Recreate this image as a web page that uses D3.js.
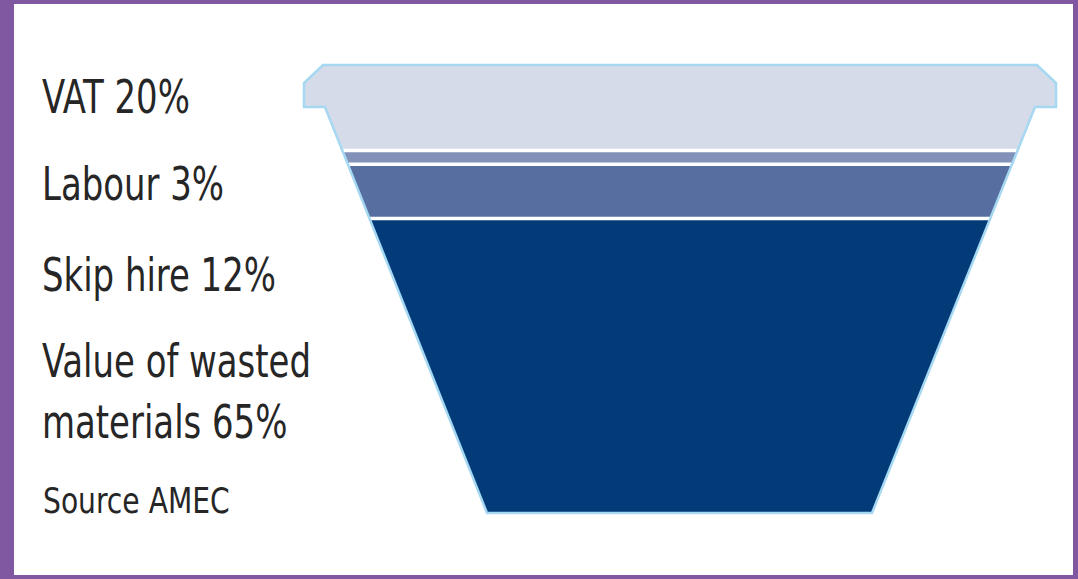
<!DOCTYPE html>
<html>
<head>
<meta charset="utf-8">
<script src="https://cdn.jsdelivr.net/npm/d3@7"></script>
<style>
  html, body { margin: 0; padding: 0; background: #fff; }
  svg { display: block; }
</style>
</head>
<body>
<div id="vis"></div>
<script>
// data
const categories = ["VAT", "Labour", "Skip hire", "Value of wasted materials"];
const shares = [20, 3, 12, 65];
const labelLines = [["VAT 20%"], ["Labour 3%"], ["Skip hire 12%"], ["Value of wasted", "materials 65%"]];
const sourceNote = "Source AMEC";

//#region layout
const W = 1078, H = 579;
const fills = ["#d5dbe8", "#8191b8", "#566fa0", "#033b78"];
const bandTop = 60, bandBottom = 513;

// skip outline
const rimTop = 65, rimChamfer = 20, rimBottom = 107;
const rimLeft = 304, rimRight = 1056;
const bodyTopL = 325, bodyTopR = 1035;
const bodyBotL = 487, bodyBotR = 872;
//#endregion

const stacked = d3.stack().keys(categories)([Object.fromEntries(categories.map((c, i) => [c, shares[i]]))]);

const y = d3.scaleLinear()
  .domain([0, d3.sum(shares)])
  .range([bandTop, bandBottom]);

const svg = d3.select("#vis")
  .append("svg")
    .attr("width", W)
    .attr("height", H);

// purple frame
svg.append("rect")
  .attr("width", W).attr("height", H)
  .attr("fill", "#8057a1");
svg.append("rect")
  .attr("x", 14).attr("y", 4)
  .attr("width", W - 14 - 5).attr("height", H - 8)
  .attr("fill", "#fff");

const outline = d3.path();
outline.moveTo(rimLeft + rimChamfer - 1, rimTop);
outline.lineTo(rimRight - rimChamfer + 1, rimTop);
outline.lineTo(rimRight, rimTop + rimChamfer - 2);
outline.lineTo(rimRight, rimBottom);
outline.lineTo(bodyTopR, rimBottom);
outline.lineTo(bodyBotR, bandBottom);
outline.lineTo(bodyBotL, bandBottom);
outline.lineTo(bodyTopL, rimBottom);
outline.lineTo(rimLeft, rimBottom);
outline.lineTo(rimLeft, rimTop + rimChamfer - 2);
outline.closePath();

svg.append("clipPath")
  .attr("id", "skip")
  .append("path")
    .attr("d", outline.toString());

const bands = svg.append("g").attr("clip-path", "url(#skip)");

bands.selectAll("rect")
  .data(stacked)
  .join("rect")
    .attr("x", rimLeft - 5)
    .attr("width", rimRight - rimLeft + 10)
    .attr("y", d => y(d[0][0]))
    .attr("height", d => y(d[0][1]) - y(d[0][0]))
    .attr("fill", (d, i) => fills[i]);

// white separators between the bands
bands.selectAll("line")
  .data(stacked.slice(0, -1))
  .join("line")
    .attr("x1", rimLeft - 5)
    .attr("x2", rimRight + 5)
    .attr("y1", d => y(d[0][1]))
    .attr("y2", d => y(d[0][1]))
    .attr("stroke", "#fff")
    .attr("stroke-width", 3.5);

svg.append("path")
  .attr("d", outline.toString())
  .attr("fill", "none")
  .attr("stroke", "#a6d8f2")
  .attr("stroke-width", 2.5)
  .attr("stroke-linejoin", "miter");

// labels (condensed look: DejaVu Condensed squeezed a bit more)
const labelBaselines = [113, 200, 291, 377];
const lineGap = 61;
const squeeze = 0.82;

const labels = svg.append("g")
  .attr("font-family", "'DejaVu Sans Condensed', 'DejaVu Sans', sans-serif")
  .attr("fill", "#262626");

labels.selectAll("text")
  .data(labelLines)
  .join("text")
    .attr("transform", (d, i) => `translate(42,${labelBaselines[i]}) scale(${squeeze},1)`)
    .attr("font-size", 46)
  .selectAll("tspan")
  .data(d => d)
  .join("tspan")
    .attr("x", 0)
    .attr("dy", (d, i) => i === 0 ? 0 : lineGap)
    .text(d => d);

labels.append("text")
  .attr("transform", `translate(43,513) scale(0.87,1)`)
  .attr("font-size", 36)
  .text(sourceNote);
</script>
</body>
</html>
